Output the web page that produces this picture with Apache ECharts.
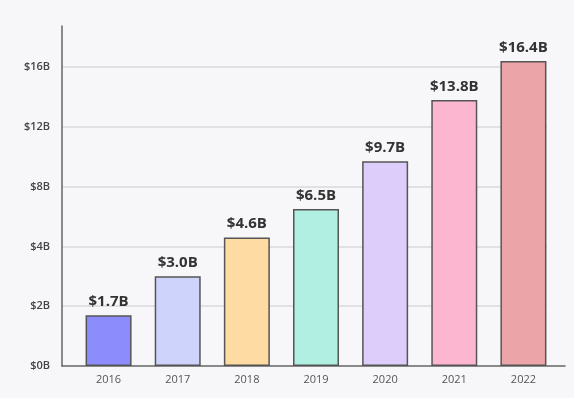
<!DOCTYPE html>
<html>
<head>
<meta charset="utf-8">
<script src="https://cdn.jsdelivr.net/npm/echarts@6/dist/echarts.min.js"></script>
<style>
  html, body { margin: 0; padding: 0; background: #f7f7fa; }
  #chart { width: 574px; height: 398px; }
</style>
</head>
<body>
<div id="chart"></div>
<script>
const years = ['2016', '2017', '2018', '2019', '2020', '2021', '2022']
const revenue = [1.7, 3.0, 4.6, 6.5, 9.7, 13.8, 16.4] // $B
const barColors = ['#8c8cfc', '#cdd3fb', '#fddba3', '#b0efe1', '#dccdfb', '#fdb6d0', '#eba5a8']
// the y axis is not linear: equal steps carry these values
const tickValues = [0, 2, 4, 8, 12, 16]

// value -> position on the stepped axis (one unit per tick)
function toAxis(v) {
  for (let i = 1; i < tickValues.length; i++) {
    if (v <= tickValues[i]) {
      const a = tickValues[i - 1]
      const b = tickValues[i]
      return i - 1 + (v - a) / (b - a)
    }
  }
  const n = tickValues.length - 1
  return n + (v - tickValues[n]) / (tickValues[n] - tickValues[n - 1])
}

const yMax = 5.686
const font = '"Open Sans", "Noto Sans", sans-serif'

const myChart = echarts.init(document.getElementById('chart'))
myChart.setOption({
  backgroundColor: '#f7f7fa',
  animation: false,
  grid: [
    // frame: axis lines and y labels
    { left: 62, right: 9, top: 26, bottom: 32 },
    // bars and year labels
    { left: 74, right: 16, top: 26, bottom: 32 },
    // horizontal grid lines
    { left: 62, right: 27, top: 26, bottom: 32 }
  ],
  xAxis: [
    {
      gridIndex: 0,
      type: 'category',
      data: years,
      axisLine: { lineStyle: { color: '#666', width: 1.5 } },
      axisTick: { show: false },
      axisLabel: { show: false }
    },
    {
      gridIndex: 1,
      type: 'category',
      data: years,
      axisLine: { show: false },
      axisTick: { show: false },
      axisLabel: { margin: 8, fontSize: 11, color: '#555', fontFamily: font }
    },
    {
      gridIndex: 2,
      type: 'category',
      data: years,
      show: false
    }
  ],
  yAxis: [
    {
      gridIndex: 0,
      type: 'value',
      min: 0,
      max: yMax,
      interval: 1,
      axisLine: { show: true, lineStyle: { color: '#666', width: 1.5 } },
      axisTick: { show: false },
      splitLine: { show: false },
      axisLabel: {
        margin: 12,
        fontSize: 11,
        fontWeight: 600,
        color: '#444',
        fontFamily: font,
        showMaxLabel: false,
        formatter: function(v) {
          const i = Math.round(v)
          if (Math.abs(v - i) > 1e-6 || i >= tickValues.length) return ''
          return '$' + tickValues[i] + 'B'
        }
      }
    },
    {
      gridIndex: 1,
      type: 'value',
      min: 0,
      max: yMax,
      interval: 1,
      axisLine: { show: false },
      axisTick: { show: false },
      axisLabel: { show: false },
      splitLine: { show: false }
    },
    {
      gridIndex: 2,
      type: 'value',
      min: 0,
      max: yMax,
      interval: 1,
      z: 0,
      axisLine: { show: false },
      axisTick: { show: false },
      axisLabel: { show: false },
      splitLine: { showMinLine: false, showMaxLine: false, lineStyle: { color: '#dadade', width: 1.5 } }
    }
  ],
  series: [
    {
      type: 'bar',
      xAxisIndex: 1,
      yAxisIndex: 1,
      barWidth: 46,
      z: 3,
      data: revenue.map(function(v, i) {
        return {
          value: toAxis(v),
          itemStyle: { color: barColors[i] }
        }
      }),
      itemStyle: { borderColor: '#555', borderWidth: 1.5 },
      label: {
        show: true,
        position: 'top',
        distance: 6,
        fontSize: 15,
        fontWeight: 'bold',
        color: '#333',
        fontFamily: font,
        formatter: function(p) {
          return '$' + revenue[p.dataIndex].toFixed(1) + 'B'
        }
      }
    }
  ]
})
</script>
</body>
</html>
